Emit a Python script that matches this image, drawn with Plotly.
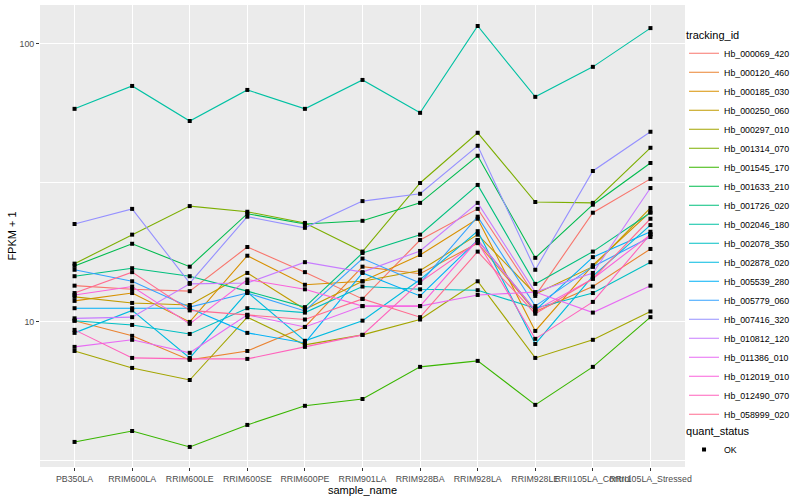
import plotly.graph_objects as go

samples = ["PB350LA", "RRIM600LA", "RRIM600LE", "RRIM600SE", "RRIM600PE", "RRIM901LA",
           "RRIM928BA", "RRIM928LA", "RRIM928LE", "RRII105LA_Control", "RRII105LA_Stressed"]

hb_000069_420 = [13.5, 13.1, 12.9, 18.6, 15.1, 12.1, 19.7, 25.5, 12.4, 24.7, 32.7]
hb_000120_460 = [10.1, 8.91, 7.30, 7.86, 9.59, 15.8, 14.9, 19.2, 10.9, 13.4, 18.3]
hb_000185_030 = [11.9, 12.7, 10.0, 17.3, 13.6, 14.0, 17.4, 23.5, 9.28, 16.0, 24.9]
hb_000250_060 = [12.3, 11.7, 11.5, 15.0, 11.1, 14.0, 15.3, 20.6, 12.6, 15.8, 25.7]
hb_000297_010 = [7.86, 6.83, 6.18, 10.4, 8.27, 8.98, 10.2, 14.0, 7.42, 8.62, 10.9]
hb_001314_070 = [16.2, 20.6, 26.1, 24.9, 22.7, 17.9, 31.6, 47.9, 27.0, 26.8, 42.3]
hb_001545_170 = [3.70, 4.05, 3.55, 4.26, 4.99, 5.28, 6.89, 7.24, 5.03, 6.89, 10.4]
hb_001633_210 = [15.9, 19.1, 15.8, 24.5, 22.5, 23.1, 26.8, 39.6, 17.0, 26.4, 37.3]
hb_001726_020 = [14.6, 15.6, 14.6, 12.9, 11.3, 17.7, 20.6, 31.1, 13.7, 17.9, 24.7]
hb_002046_180 = [58.4, 70.6, 52.8, 68.3, 58.4, 74.2, 56.5, 116.0, 64.5, 82.7, 114.0]
hb_002078_350 = [10.1, 9.75, 9.05, 11.2, 10.8, 13.4, 13.1, 13.0, 11.2, 12.7, 16.4]
hb_002878_020 = [9.13, 11.0, 7.42, 12.8, 8.55, 10.1, 14.2, 21.2, 8.33, 14.6, 22.3]
hb_005539_280 = [11.2, 11.2, 11.2, 9.13, 8.40, 15.0, 12.4, 19.7, 11.0, 17.1, 21.1]
hb_005779_060 = [15.4, 14.0, 11.3, 12.7, 10.95, 16.9, 13.8, 23.9, 11.4, 15.8, 20.2]
hb_007416_320 = [22.5, 25.5, 13.8, 23.9, 21.8, 27.2, 28.9, 43.0, 15.4, 34.9, 48.3]
hb_010812_120 = [10.3, 10.4, 13.7, 13.8, 16.4, 15.1, 18.0, 26.8, 12.8, 15.0, 30.3]
hb_011386_010 = [8.13, 8.62, 7.74, 10.6, 9.59, 11.4, 11.4, 12.5, 12.8, 10.8, 13.5]
hb_012019_010 = [12.5, 13.4, 9.84, 14.2, 13.1, 11.4, 11.4, 19.7, 11.0, 14.3, 20.6]
hb_012490_070 = [9.36, 7.42, 7.36, 7.36, 8.13, 8.98, 13.9, 19.4, 8.69, 11.8, 20.7]
hb_058999_020 = [12.7, 15.1, 11.0, 10.6, 10.2, 12.1, 10.4, 17.9, 10.7, 14.3, 23.5]

tracking_ids = ["Hb_000069_420", "Hb_000120_460", "Hb_000185_030", "Hb_000250_060",
                "Hb_000297_010", "Hb_001314_070", "Hb_001545_170", "Hb_001633_210",
                "Hb_001726_020", "Hb_002046_180", "Hb_002078_350", "Hb_002878_020",
                "Hb_005539_280", "Hb_005779_060", "Hb_007416_320", "Hb_010812_120",
                "Hb_011386_010", "Hb_012019_010", "Hb_012490_070", "Hb_058999_020"]

series = [hb_000069_420, hb_000120_460, hb_000185_030, hb_000250_060, hb_000297_010,
          hb_001314_070, hb_001545_170, hb_001633_210, hb_001726_020, hb_002046_180,
          hb_002078_350, hb_002878_020, hb_005539_280, hb_005779_060, hb_007416_320,
          hb_010812_120, hb_011386_010, hb_012019_010, hb_012490_070, hb_058999_020]

colors = ["#F8766D", "#EA8331", "#D89000", "#C09B00", "#A3A500", "#7CAE00", "#39B600",
          "#00BB4E", "#00BF7D", "#00C1A3", "#00BFC4", "#00BAE0", "#00B0F6", "#35A2FF",
          "#9590FF", "#C77CFF", "#E76BF3", "#FA62DB", "#FF62BC", "#FF6C91"]

fig = go.Figure()
for name, vals, col in zip(tracking_ids, series, colors):
    fig.add_trace(go.Scatter(x=samples, y=vals, mode="lines", name=name,
                             line=dict(color=col, width=1.1), legend="legend"))

all_x = [s for _ in series for s in samples]
all_y = [v for vals in series for v in vals]
fig.add_trace(go.Scatter(x=all_x, y=all_y, mode="markers", name="OK",
                         marker=dict(symbol="square", size=4, color="black"),
                         legend="legend2"))

fig.update_layout(
    width=800, height=500,
    margin=dict(l=40, r=112, t=5, b=33),
    paper_bgcolor="white", plot_bgcolor="#EBEBEB",
    font=dict(family="Liberation Sans, Arial, sans-serif", color="black"),
    xaxis=dict(type="category", categoryorder="array", categoryarray=samples,
               range=[-0.6, 10.6], showgrid=True, gridcolor="white", gridwidth=1.1,
               ticks="outside", ticklen=3, tickcolor="#333333", tickangle=0,
               tickfont=dict(size=8.8, color="#4D4D4D"), zeroline=False,
               title=dict(text="sample_name", font=dict(size=11), standoff=0)),
    yaxis=dict(type="log", range=[0.478, 2.140], tickvals=[10, 100], ticktext=["10", "100"],
               showgrid=True, gridcolor="white", gridwidth=1.1,
               minor=dict(tickvals=[10 ** 0.5, 10 ** 1.5], showgrid=True,
                          gridcolor="white", gridwidth=0.5, ticks=""),
               ticks="outside", ticklen=3, tickcolor="#333333",
               tickfont=dict(size=8.8, color="#4D4D4D"), zeroline=False,
               title=dict(text="FPKM + 1", font=dict(size=11), standoff=0)),
    legend=dict(x=0.9985, y=0.958, xanchor="left", yanchor="top",
                title=dict(text="tracking_id", font=dict(size=11)),
                font=dict(size=8.8), bgcolor="rgba(0,0,0,0)", tracegroupgap=0),
    legend2=dict(x=0.9985, y=0.1, xanchor="left", yanchor="top",
                 title=dict(text="quant_status", font=dict(size=11)),
                 font=dict(size=8.8), bgcolor="rgba(0,0,0,0)"),
)

fig.write_html("out.html", config={"displayModeBar": False},
               post_script="document.body.style.margin='0';document.body.style.padding='0';")
